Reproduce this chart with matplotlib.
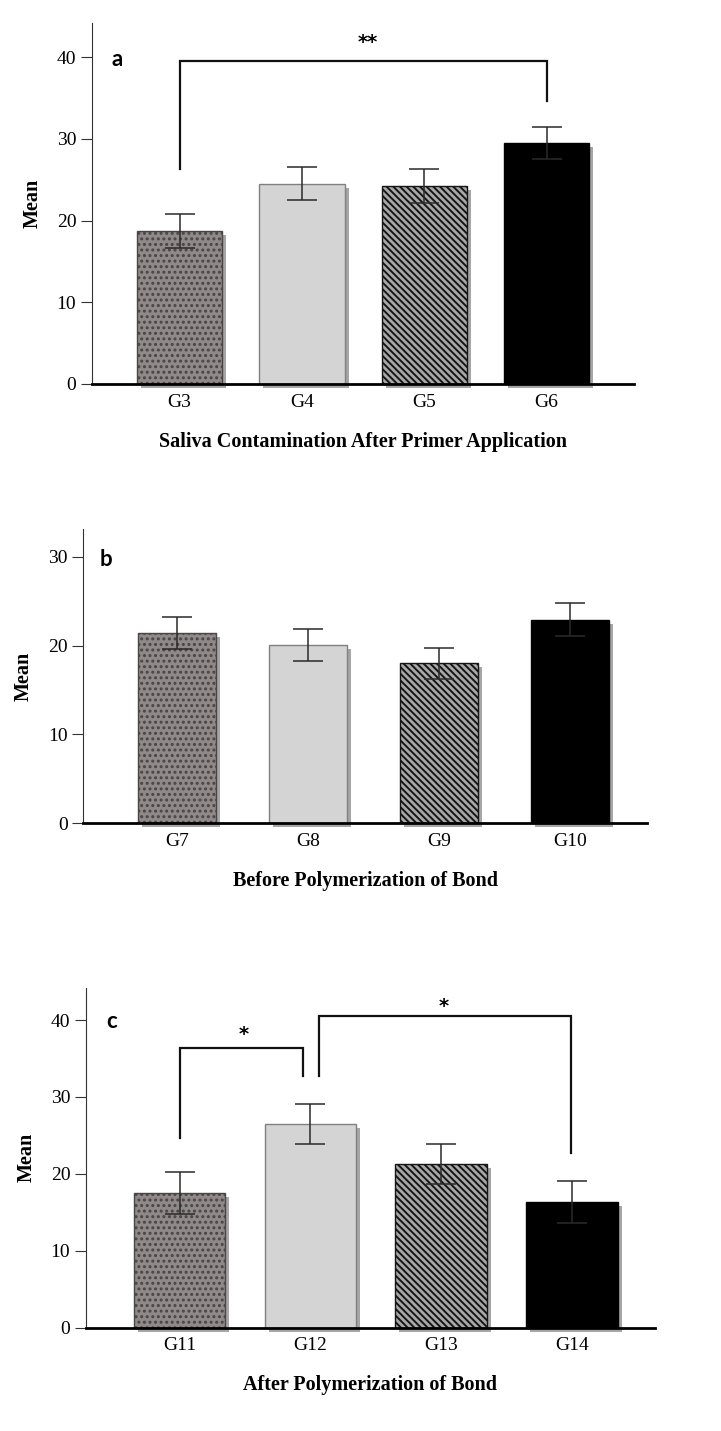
import matplotlib
matplotlib.use("Agg")
import matplotlib.pyplot as plt
from matplotlib.transforms import offset_copy

plt.rcParams['font.family'] = ['Liberation Serif', 'DejaVu Serif']
plt.rcParams['hatch.linewidth'] = 1.4

# ---- data ----
groups_a = ['G3', 'G4', 'G5', 'G6']
means_a = [18.7, 24.5, 24.2, 29.5]
err_a = [2.05, 2.05, 2.05, 2.0]

groups_b = ['G7', 'G8', 'G9', 'G10']
means_b = [21.4, 20.1, 18.0, 22.9]
err_b = [1.8, 1.8, 1.75, 1.85]

groups_c = ['G11', 'G12', 'G13', 'G14']
means_c = [17.55, 26.5, 21.3, 16.35]
err_c = [2.75, 2.6, 2.6, 2.75]

xlabels = ['Saliva Contamination After Primer Application',
           'Before Polymerization of Bond',
           'After Polymerization of Bond']
panel_letters = ['a', 'b', 'c']

# significance brackets: (x_left, x_right, y_bar, y_left_end, y_right_end, label, label_x, label_y)
brackets_a = [(0.0, 3.0, 39.55, 26.3, 34.6, '**', 1.54, 41.8)]
brackets_b = []
brackets_c = [(0.0, 0.945, 36.4, 24.6, 32.75, '*', 0.49, 38.1),
              (1.066, 2.995, 40.5, 32.75, 22.7, '*', 2.02, 41.8)]

# ---- styles ----
faces = ['#8f8989', '#d4d4d4', '#a8a8a8', 'black']
edges = ['#4a4545', '#808080', '#151515', 'black']
hatches = ['...', None, '\\\\\\\\\\', None]

W, H = 721, 1431
fig = plt.figure(figsize=(W / 100, H / 100), dpi=100)

# axes rectangles in pixels: left, right, top, bottom(y=0)
rects = [(91.6, 633.5, 22.7, 384.0),
         (82.8, 647.4, 529.3, 823.3),
         (85.6, 655.0, 987.7, 1327.7)]
ylims = [44.2, 33.1, 44.2]
xlims = [(-0.72, 3.71), (-0.72, 3.59), (-0.72, 3.635)]
widths = [0.70, 0.60, 0.70]
yticks = [[0, 10, 20, 30, 40], [0, 10, 20, 30], [0, 10, 20, 30, 40]]
letter_pos = [(-0.51, 39.75), (-0.54, 29.7), (-0.52, 39.8)]

all_groups = [groups_a, groups_b, groups_c]
all_means = [means_a, means_b, means_c]
all_err = [err_a, err_b, err_c]
all_brackets = [brackets_a, brackets_b, brackets_c]

for i in range(3):
    l, r, t, b = rects[i]
    ax = fig.add_axes([l / W, 1 - b / H, (r - l) / W, (b - t) / H])
    x = list(range(len(all_groups[i])))
    shadow_tr = offset_copy(ax.transData, fig=fig, x=4, y=-4, units='dots')
    ax.bar(x, all_means[i], width=widths[i], color='#a6a6a6', edgecolor='none',
           transform=shadow_tr, clip_on=False, zorder=1)
    for j in x:
        ax.bar(j, all_means[i][j], width=widths[i], color=faces[j], edgecolor=edges[j],
               hatch=hatches[j], linewidth=1.0, zorder=2)
    ax.errorbar(x, all_means[i], yerr=all_err[i], fmt='none', ecolor='#2a2a2a',
                elinewidth=1.1, capsize=11, capthick=1.1, zorder=5)
    for (xl, xr, yb, yl, yr, lab, lx, ly) in all_brackets[i]:
        ax.plot([xl, xl, xr, xr], [yl, yb, yb, yr], color='#111111', lw=1.6,
                zorder=6, solid_joinstyle='miter', clip_on=False)
        ax.text(lx, ly, lab, ha='center', va='center', fontsize=14,
                fontweight='bold', family=['DejaVu Sans'])
    ax.text(letter_pos[i][0], letter_pos[i][1], panel_letters[i], ha='center',
            va='center', fontsize=16, fontweight='bold', family=['Lato', 'DejaVu Sans'])

    ax.set_xlim(*xlims[i])
    ax.set_ylim(0, ylims[i])
    ax.set_xticks(x)
    ax.set_xticklabels(all_groups[i], fontsize=14)
    ax.set_yticks(yticks[i])
    ax.set_yticklabels([str(v) for v in yticks[i]], fontsize=14)
    ax.tick_params(axis='x', length=0, pad=7)
    ax.tick_params(axis='y', length=8, width=0.8, color='#333333', pad=3)
    for s in ['top', 'right']:
        ax.spines[s].set_visible(False)
    ax.spines['left'].set_linewidth(0.8)
    ax.spines['left'].set_color('#333333')
    ax.spines['bottom'].set_linewidth(2.0)
    ax.spines['bottom'].set_color('black')
    ax.spines['bottom'].set_zorder(7)
    ax.set_xlabel(xlabels[i], fontsize=14.5, fontweight='bold', labelpad=15)
    ax.set_ylabel('Mean', fontsize=14.5, fontweight='bold', labelpad=10)

fig.savefig('out.png', dpi=100)
